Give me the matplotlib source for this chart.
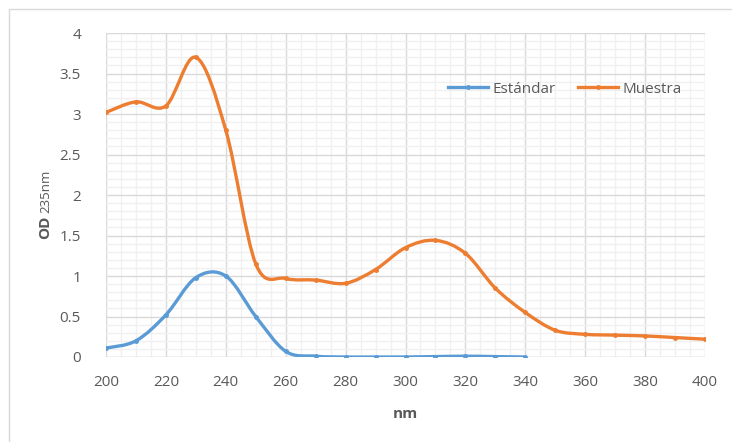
import numpy as np
import matplotlib
matplotlib.use("Agg")
import matplotlib.pyplot as plt
from matplotlib.path import Path
from matplotlib.patches import PathPatch, Rectangle
from matplotlib.lines import Line2D

# data, every 10 nm
nm = [200, 210, 220, 230, 240, 250, 260, 270, 280, 290, 300,
      310, 320, 330, 340, 350, 360, 370, 380, 390, 400]
muestra = [3.02, 3.15, 3.10, 3.70, 2.80, 1.15, 0.97, 0.95, 0.91, 1.08, 1.35,
           1.44, 1.28, 0.85, 0.55, 0.33, 0.28, 0.27, 0.26, 0.24, 0.22]
nm_std = [200, 210, 220, 230, 240, 250, 260, 270, 280, 290, 300,
          310, 320, 330, 340]
estandar = [0.11, 0.20, 0.52, 0.98, 1.00, 0.50, 0.07, 0.01, 0.0, 0.0, 0.0,
            0.005, 0.01, 0.005, 0.0]

c_std = "#5b9bd5"
c_mue = "#ed7d31"
txt = "#595959"

plt.rcParams["font.family"] = ["Open Sans", "DejaVu Sans"]


def smooth_path(x, y):
    # Excel-style smoothed line: bezier segments through the points
    x = np.asarray(x, float)
    y = np.asarray(y, float)
    verts = [(x[0], y[0])]
    codes = [Path.MOVETO]
    n = len(x)
    for i in range(n - 1):
        p0 = (x[i - 1], y[i - 1]) if i > 0 else (x[i], y[i])
        p1 = (x[i], y[i])
        p2 = (x[i + 1], y[i + 1])
        p3 = (x[i + 2], y[i + 2]) if i + 2 < n else (x[i + 1], y[i + 1])
        t = 1 / 6
        c1 = (p1[0] + (p2[0] - p0[0]) * t, p1[1] + (p2[1] - p0[1]) * t)
        c2 = (p2[0] - (p3[0] - p1[0]) * t, p2[1] - (p3[1] - p1[1]) * t)
        verts += [c1, c2, p2]
        codes += [Path.CURVE4] * 3
    return Path(verts, codes)


fig = plt.figure(figsize=(7.32, 4.42), dpi=100)
fig.patches.append(Rectangle((9 / 732, -0.1), 1.2, 1 - 9 / 442 + 0.1,
                             transform=fig.transFigure, fill=False,
                             edgecolor="#d9d9d9", linewidth=1))
ax = fig.add_axes([106 / 732, 1 - 357 / 442, 599 / 732, 324 / 442])

for xs, ys, c, lab in [(nm_std, estandar, c_std, "Estándar"),
                       (nm, muestra, c_mue, "Muestra")]:
    ax.add_patch(PathPatch(smooth_path(xs, ys), facecolor="none",
                           edgecolor=c, linewidth=2.4, zorder=3,
                           capstyle="round", joinstyle="round"))
    ax.plot(xs, ys, "o", color=c, markersize=2.5, zorder=4)

ax.set_xlim(200, 400)
ax.set_ylim(0, 4)
ax.set_xticks(np.arange(200, 401, 20))
ax.set_yticks(np.arange(0, 4.01, 0.5))
ax.set_yticklabels(["0", "0.5", "1", "1.5", "2", "2.5", "3", "3.5", "4"])
ax.set_xticks(np.arange(200, 401, 5), minor=True)
ax.set_yticks(np.arange(0, 4.01, 0.1), minor=True)
ax.grid(which="major", color="#d9d9d9", linewidth=1)
ax.grid(which="minor", color="#f0f0f0", linewidth=1)
ax.set_axisbelow(True)
ax.tick_params(which="both", length=0, labelsize=11, colors=txt)
ax.tick_params(axis="x", pad=13)
ax.tick_params(axis="y", pad=18)
for s in ax.spines.values():
    s.set_visible(False)
ax.axhline(0, color="#d9d9d9", linewidth=1, zorder=1)

ax.set_xlabel("nm", fontsize=11, fontweight="bold", color=txt, labelpad=12)
fig.text(45 / 732, 1 - 216 / 442, r"OD", rotation=90, fontsize=11,
         fontweight="bold", color=txt, ha="center", va="top")
fig.text(46 / 732, 1 - 213 / 442, "235nm", rotation=90, fontsize=9.5,
         color=txt, ha="center", va="bottom")

handles = [Line2D([], [], color=c_std, linewidth=2.4, marker="o", markersize=2.5),
           Line2D([], [], color=c_mue, linewidth=2.4, marker="o", markersize=2.5)]
ax.legend(handles, ["Estándar", "Muestra"], ncol=2, frameon=False,
          loc="center", bbox_to_anchor=(0.766, 0.827), fontsize=11,
          labelcolor=txt, handlelength=2.6, columnspacing=1.5, handletextpad=0.3)

fig.savefig("out.png", dpi=100)
